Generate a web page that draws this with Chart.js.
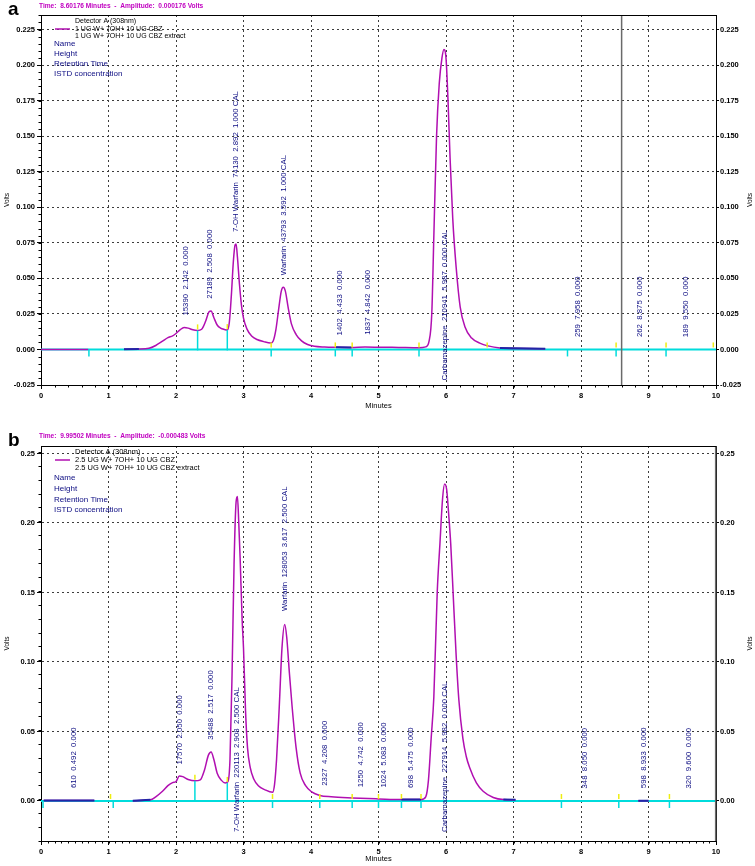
<!DOCTYPE html>
<html>
<head>
<meta charset="utf-8">
<script src="https://cdn.jsdelivr.net/npm/chart.js@4.4.1/dist/chart.umd.min.js"></script>
<style>
  body { margin: 0; background: #fff; width: 755px; height: 866px; overflow: hidden; }
  canvas { display: block; }
</style>
</head>
<body>
<canvas id="chartA" width="755" height="420"></canvas>
<canvas id="chartB" width="755" height="446"></canvas>
<script>
// axis ticks
const minuteTicks = [0, 1, 2, 3, 4, 5, 6, 7, 8, 9, 10];
const voltTicksA = [-0.025, 0, 0.025, 0.05, 0.075, 0.1, 0.125, 0.15, 0.175, 0.2, 0.225];
const voltTicksB = [0, 0.05, 0.1, 0.15, 0.2, 0.25];

// panel a : 1 UG W+ 7OH+ 10 UG CBZ
const traceTimeA = [0, 0.70, 0.95, 1.23, 1.45, 1.60, 1.70, 1.80, 1.88, 1.95, 2.00, 2.06, 2.12, 2.18, 2.25, 2.32,
  2.38, 2.44, 2.49, 2.52, 2.56, 2.61, 2.66, 2.72, 2.76, 2.79, 2.82, 2.85, 2.875, 2.89, 2.91, 2.94, 2.97, 3.00,
  3.05, 3.12, 3.20, 3.30, 3.40, 3.44, 3.48, 3.52, 3.56, 3.59, 3.62, 3.66, 3.71, 3.78, 3.86, 3.95, 4.05, 4.20,
  4.40, 4.60, 4.80, 5.00, 5.30, 5.60, 5.70, 5.75, 5.79, 5.82, 5.86, 5.90, 5.94, 5.97, 6.00, 6.03, 6.06, 6.10,
  6.15, 6.21, 6.28, 6.38, 6.50, 6.62, 6.80, 7.10, 7.47];
const traceVoltsA = [0, 0, null, 0.0002, 0.0003, 0.0008, 0.0028, 0.0058, 0.0083, 0.0095, 0.0112, 0.0138, 0.0154, 0.0150, 0.0138, 0.0134,
  0.0142, 0.0200, 0.0265, 0.0270, 0.0225, 0.0172, 0.0150, 0.0140, 0.0136, 0.0190, 0.0380, 0.0620, 0.0735, 0.0742, 0.0650, 0.0460, 0.0310, 0.0220,
  0.0145, 0.0095, 0.0070, 0.0055, 0.0045, 0.0060, 0.0140, 0.0280, 0.0410, 0.0437, 0.0410, 0.0300, 0.0180, 0.0105, 0.0060, 0.0035, 0.0022, 0.0017,
  0.0015, 0.0014, 0.0017, 0.0016, 0.0014, 0.0012, 0.0018, 0.0060, 0.0260, 0.0800, 0.1500, 0.1870, 0.2050, 0.2110, 0.2050, 0.1750, 0.1350, 0.0920,
  0.0580, 0.0300, 0.0160, 0.0080, 0.0045, 0.0025, 0.0010, 0.0006, 0.0005];
const baseTimeA = [1.23, 1.45, 1.50, 4.37, 4.60, 4.70, 6.80, 7.47];
const baseVoltsA = [0.0002, 0.0003, null, 0.0015, 0.0014, null, 0.0010, 0.0005];
const peakNameA = ["", "", "7-OH Warfarin", "Warfarin", "", "", "Carbamazepine", "", "", ""];
const peakAreaA = [15390, 27189, 74130, 43793, 1402, 1837, 210941, 259, 262, 189];
const peakTimeA = [2.142, 2.508, 2.892, 3.592, 4.433, 4.842, 5.987, 7.958, 8.875, 9.550];
const peakAmountA = ["0.000", "0.000", "1.000 CAL", "1.000 CAL", "0.000", "0.000", "0.000 CAL", "0.000", "0.000", "0.000"];
const cyanMarksA = [0.71, 3.41, 4.36, 4.61, 5.60, 7.80, 8.52, 9.26];
const yellowMarksA = [3.41, 4.36, 4.61, 5.60, 6.61, 8.52, 9.26, 9.96];
const dropTimeA = [2.32, 2.76];
const dropVoltsA = [0.0134, 0.0136];

// panel b : 2.5 UG W+ 7OH+ 10 UG CBZ
const traceTimeB = [0.04, 0.79, 1.00, 1.36, 1.62, 1.70, 1.80, 1.88, 1.95, 2.00, 2.05, 2.10, 2.18, 2.28, 2.36,
  2.42, 2.48, 2.52, 2.56, 2.61, 2.67, 2.73, 2.77, 2.80, 2.83, 2.86, 2.89, 2.91, 2.93, 2.95, 2.98, 3.00, 3.03,
  3.06, 3.10, 3.15, 3.22, 3.32, 3.43, 3.46, 3.49, 3.53, 3.57, 3.61, 3.64, 3.68, 3.72, 3.78, 3.84, 3.92, 4.01,
  4.13, 4.30, 4.61, 5.00, 5.34, 5.63, 5.70, 5.74, 5.78, 5.82, 5.87, 5.91, 5.95, 5.98, 6.01, 6.04, 6.07, 6.11,
  6.15, 6.19, 6.25, 6.30, 6.35, 6.45, 6.55, 6.70, 6.85, 7.03, 7.50, 8.85, 9.00];
const traceVoltsB = [0.0003, 0.0003, null, 0.0002, 0.0008, 0.0030, 0.0070, 0.0110, 0.0132, 0.0140, 0.0180, 0.0175, 0.0155, 0.0145, 0.0152,
  0.0220, 0.0330, 0.0352, 0.0300, 0.0200, 0.0150, 0.0130, 0.0140, 0.0300, 0.0900, 0.1700, 0.2150, 0.2190, 0.2000, 0.1750, 0.1300, 0.1100, 0.0650,
  0.0380, 0.0240, 0.0160, 0.0110, 0.0080, 0.0062, 0.0120, 0.0300, 0.0680, 0.1100, 0.1270, 0.1180, 0.0920, 0.0680, 0.0380, 0.0200, 0.0110, 0.0065,
  0.0040, 0.0030, 0.0022, 0.0015, 0.0010, 0.0010, 0.0030, 0.0150, 0.0450, 0.0750, 0.1500, 0.1850, 0.2180, 0.2280, 0.2240, 0.2060, 0.1850, 0.1450,
  0.1050, 0.0730, 0.0450, 0.0320, 0.0240, 0.0130, 0.0070, 0.0025, 0.0010, 0.0008, null, 0.0002, 0.0002];
const baseTimeB = [0.04, 0.79, 1.00, 1.36, 1.62, 1.70, 5.34, 5.63, 5.70, 6.85, 7.03, 7.50, 8.85, 9.00];
const baseVoltsB = [0.0003, 0.0003, null, 0.0002, 0.0008, null, 0.0010, 0.0010, null, 0.0010, 0.0008, null, 0.0002, 0.0002];
const peakNameB = ["", "", "", "7-OH Warfarin", "Warfarin", "", "", "", "", "Carbamazepine", "", "", ""];
const peakAreaB = [610, 17570, 35488, 220113, 128053, 2327, 1250, 1024, 698, 227914, 348, 598, 320];
const peakTimeB = [0.492, 2.050, 2.517, 2.908, 3.617, 4.208, 4.742, 5.083, 5.475, 5.982, 8.050, 8.933, 9.600];
const peakAmountB = ["0.000", "0.000", "0.000", "2.500 CAL", "2.500 CAL", "0.000", "0.000", "0.000", "0.000", "0.000 CAL", "0.000", "0.000", "0.000"];
const cyanMarksB = [0.03, 1.07, 3.43, 4.13, 4.61, 5.00, 5.34, 5.63, 7.71, 8.56, 9.31];
const yellowMarksB = [1.03, 3.43, 4.13, 4.61, 5.00, 5.34, 5.63, 7.71, 8.56, 9.31];
const dropTimeB = [2.28, 2.76];
const dropVoltsB = [0.0145, 0.0130];

const MAGENTA = "#b10fb1";
const CYAN = "#00dcdc";
const NAVY = "#0c0c82";
const DARKBLUE = "#2424a6";

function pts(times, volts) {
  return times.map((t, i) => ({ x: t, y: volts[i] }));
}

function line(ctx, x1, y1, x2, y2) {
  ctx.beginPath();
  ctx.moveTo(x1, y1);
  ctx.lineTo(x2, y2);
  ctx.stroke();
}

const decor = {
  id: "decor",
  beforeDraw(chart, args, o) {
    const ctx = chart.ctx;
    ctx.save();
    ctx.fillStyle = "#000";
    ctx.font = "bold 19px Arial";
    ctx.textBaseline = "alphabetic";
    ctx.fillText(o.letter, 8, o.letterY);
    ctx.fillStyle = "#c000c0";
    ctx.font = "bold 6.6px Arial";
    ctx.textBaseline = "middle";
    ctx.fillText(o.status, 39, o.statusY);
    ctx.restore();
  },
  afterDatasetsDraw(chart, args, o) {
    const { ctx, chartArea: a, scales: { x, y } } = chart;
    const px = v => x.getPixelForValue(v);
    const py = v => y.getPixelForValue(v);
    const y0 = py(0);
    ctx.save();

    // cursor line
    ctx.strokeStyle = "#6a6a6a";
    ctx.lineWidth = 1.5;
    const cx = Math.min(px(o.cursor), a.right);
    line(ctx, cx, a.top, cx, a.bottom);

    // integration marks
    ctx.strokeStyle = CYAN;
    ctx.lineWidth = 1.5;
    o.cyan.forEach(t => line(ctx, px(t), y0, px(t), y0 + 7));
    o.dropT.forEach((t, i) => line(ctx, px(t), y0 + 1, px(t), py(o.dropV[i])));
    ctx.strokeStyle = "#eeee10";
    o.yellow.forEach(t => line(ctx, px(t), y0 - 2, px(t), y0 - 7));
    o.dropT.forEach((t, i) => line(ctx, px(t), py(o.dropV[i]) - 1, px(t), py(o.dropV[i]) - 6));

    // peak annotations
    ctx.fillStyle = NAVY;
    ctx.font = "7.8px Arial";
    ctx.textAlign = "left";
    ctx.textBaseline = "middle";
    o.peaks.time.forEach((t, i) => {
      const name = o.peaks.name[i];
      const txt = (name ? name + "  " : "") + o.peaks.area[i] + "  " + t.toFixed(3) + "  " + o.peaks.amount[i];
      const w = ctx.measureText(txt).width;
      let bottom = py(o.peaks.area[i] / 1e6) - 12;
      if (bottom - w < a.top + 2) bottom = y0 + 31;
      ctx.save();
      ctx.translate(px(t), bottom);
      ctx.rotate(-Math.PI / 2);
      ctx.fillText(txt, 0, 0);
      ctx.restore();
    });
    ctx.restore();
  },
  afterDraw(chart, args, o) {
    const { ctx, chartArea: a, scales: { x, y } } = chart;
    ctx.save();
    ctx.strokeStyle = "#000";
    ctx.lineWidth = 1;
    line(ctx, a.left, a.top + 0.5, a.right, a.top + 0.5);

    // minor ticks
    for (let k = 0; k <= Math.round(10 / o.xMinor); k++) {
      const xx = Math.round(x.getPixelForValue(k * o.xMinor)) + 0.5;
      line(ctx, xx, a.bottom, xx, a.bottom + 2.5);
    }
    for (let k = 0; ; k++) {
      const v = y.min + k * o.yMinor;
      if (v > y.max) break;
      const yy = Math.round(y.getPixelForValue(v)) + 0.5;
      line(ctx, a.left - 2.5, yy, a.left, yy);
    }

    // axis titles
    ctx.fillStyle = "#000";
    ctx.font = "7.5px Arial";
    ctx.textAlign = "center";
    ctx.textBaseline = "middle";
    ctx.fillText("Minutes", (a.left + a.right) / 2, a.bottom + o.minutesGap);
    const my = (a.top + a.bottom) / 2;
    [7, 750].forEach(vx => {
      ctx.save();
      ctx.translate(vx, my);
      ctx.rotate(-Math.PI / 2);
      ctx.font = "6.5px Arial";
      ctx.fillText("Volts", 0, 0);
      ctx.restore();
    });

    // legend block
    const t = a.top;
    ctx.textAlign = "left";
    ctx.font = o.legendFont;
    ctx.fillText("Detector A (308nm)", 75, t + 6);
    ctx.strokeStyle = MAGENTA;
    ctx.lineWidth = 1.5;
    line(ctx, 55, t + 14, 70, t + 14);
    ctx.fillText(o.sample, 75, t + 14);
    ctx.fillText(o.sample + " extract", 75, t + 21.5);
    ctx.fillStyle = NAVY;
    ctx.font = "8px Arial";
    ["Name", "Height", "Retention Time", "ISTD concentration"].forEach((s, i) => {
      ctx.fillText(s, 54, t + o.nameTop + i * o.nameStep);
    });
    ctx.restore();
  }
};

function buildPanel(id, p) {
  const tickFont = { family: "Arial", size: 7.5, weight: "bold" };
  const yScale = (position, width) => ({
    position: position,
    min: p.yMin,
    max: p.yMax,
    afterBuildTicks: s => { s.ticks = p.yTicks.map(v => ({ value: v })); },
    afterFit: s => { s.width = width; },
    grid: { drawOnChartArea: position === "left", color: "#3c3c3c", lineWidth: 1, tickLength: position === "left" ? 4 : 3, tickColor: "#000" },
    border: { display: true, color: "#000", width: 1, dash: [2, 3] },
    ticks: { color: "#000", font: tickFont, padding: position === "left" ? 2 : 1, callback: v => v.toFixed(p.decimals) }
  });
  new Chart(document.getElementById(id), {
    type: "line",
    data: {
      datasets: [
        { data: pts(p.baseT, p.baseV), borderColor: DARKBLUE, borderWidth: 2, pointRadius: 0, order: 1 },
        { data: pts(p.traceT, p.traceV), borderColor: MAGENTA, borderWidth: 1.5, pointRadius: 0, cubicInterpolationMode: "monotone", order: 2 },
        { data: [{ x: 0, y: 0 }, { x: 10, y: 0 }], borderColor: CYAN, borderWidth: 2, pointRadius: 0, order: 3 }
      ]
    },
    options: {
      responsive: false,
      animation: false,
      events: [],
      layout: { padding: { top: p.topPad, left: 0, right: 0, bottom: 0 } },
      plugins: {
        legend: { display: false },
        tooltip: { enabled: false },
        decor: p.decor
      },
      scales: {
        x: {
          type: "linear",
          min: 0,
          max: 10,
          afterBuildTicks: s => { s.ticks = minuteTicks.map(v => ({ value: v })); },
          afterFit: s => { s.height = p.xAxisH; },
          grid: { color: "#3c3c3c", lineWidth: 1, tickLength: 4, tickColor: "#000" },
          border: { display: true, color: "#000", width: 1, dash: [2, 3] },
          ticks: { color: "#000", font: tickFont, padding: 2, maxRotation: 0, autoSkip: false, callback: v => String(v) }
        },
        y: yScale("left", 41),
        y2: yScale("right", 39)
      }
    },
    plugins: [decor]
  });
}

buildPanel("chartA", {
  yMin: -0.025, yMax: 0.2352, yTicks: voltTicksA, decimals: 3, topPad: 15, xAxisH: 35,
  traceT: traceTimeA, traceV: traceVoltsA, baseT: baseTimeA, baseV: baseVoltsA,
  decor: {
    letter: "a", letterY: 15, status: "Time:  8.60176 Minutes  -  Amplitude:  0.000176 Volts", statusY: 6,
    cursor: 8.60176, cyan: cyanMarksA, yellow: yellowMarksA, dropT: dropTimeA, dropV: dropVoltsA,
    peaks: { name: peakNameA, area: peakAreaA, time: peakTimeA, amount: peakAmountA },
    xMinor: 0.2, yMinor: 0.005, minutesGap: 21,
    sample: "1 UG W+ 7OH+ 10 UG CBZ", legendFont: "7px Arial", nameTop: 29, nameStep: 10
  }
});

buildPanel("chartB", {
  yMin: -0.0288, yMax: 0.2554, yTicks: voltTicksB, decimals: 2, topPad: 26, xAxisH: 25,
  traceT: traceTimeB, traceV: traceVoltsB, baseT: baseTimeB, baseV: baseVoltsB,
  decor: {
    letter: "b", letterY: 26, status: "Time:  9.99502 Minutes  -  Amplitude:  -0.000483 Volts", statusY: 16,
    cursor: 9.99502, cyan: cyanMarksB, yellow: yellowMarksB, dropT: dropTimeB, dropV: dropVoltsB,
    peaks: { name: peakNameB, area: peakAreaB, time: peakTimeB, amount: peakAmountB },
    xMinor: 0.1, yMinor: 0.01, minutesGap: 18,
    sample: "2.5 UG W+ 7OH+ 10 UG CBZ", legendFont: "7.5px Arial", nameTop: 32, nameStep: 10.7
  }
});
</script>
</body>
</html>
